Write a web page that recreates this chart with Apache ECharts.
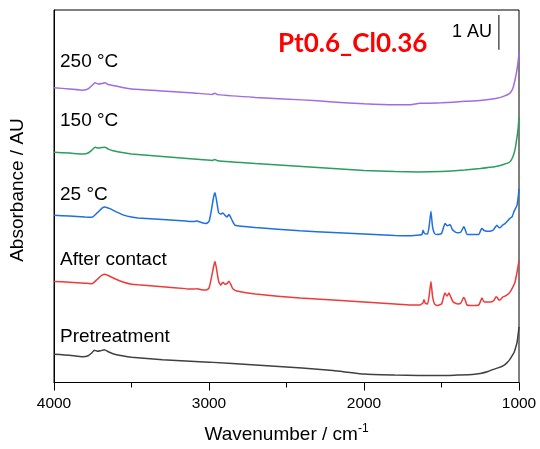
<!DOCTYPE html>
<html><head><meta charset="utf-8">
<script src="https://cdn.jsdelivr.net/npm/echarts@6/dist/echarts.min.js"></script>
<style>html,body{margin:0;padding:0;background:#fff}#c{width:540px;height:449px}</style>
</head><body><div id="c"></div>
<script>
// Wavenumber ticks (cm-1)
const xTicks = [4000, 3000, 2000, 1000];
const seriesNames = ['Pretreatment', 'After contact', '25 °C', '150 °C', '250 °C'];
const seriesColors = ['#404040', '#EE3A3A', '#1F6FE0', '#2A9E5C', '#A26BE0'];
// Spectra: [wavenumber, absorbance (AU, stacked with offsets)]
const pretreatment = [[4000,0.814],[3900,0.786],[3813,0.743],[3780,0.771],[3755,0.857],[3740,0.929],[3720,0.9],[3700,0.914],[3675,0.943],[3650,0.886],[3620,0.829],[3560,0.771],[3500,0.729],[3300,0.657],[3000,0.586],[2700,0.5],[2400,0.414],[2200,0.343],[2000,0.243],[1800,0.214],[1650,0.2],[1500,0.2],[1400,0.214],[1300,0.229],[1250,0.257],[1200,0.314],[1170,0.371],[1130,0.429],[1100,0.486],[1080,0.557],[1060,0.657],[1040,0.8],[1030,0.886],[1020,1.029],[1013,1.143],[1005,1.4],[1000,1.6]];
const afterContact = [[4000,2.906],[3900,2.886],[3800,2.857],[3755,2.843],[3720,2.971],[3690,3.086],[3671,3.114],[3640,3.057],[3600,2.971],[3550,2.886],[3500,2.829],[3458,2.809],[3300,2.757],[3150,2.7],[3100,2.686],[3077,2.7],[3050,2.671],[3020,2.657],[3000,2.714],[2985,3.0],[2970,3.343],[2961,3.477],[2950,3.229],[2938,2.914],[2925,2.8],[2910,2.886],[2898,2.829],[2884,2.843],[2872,2.914],[2860,2.829],[2845,2.686],[2820,2.629],[2700,2.543],[2413,2.429],[2200,2.371],[2000,2.314],[1800,2.257],[1700,2.229],[1640,2.229],[1620,2.286],[1613,2.38],[1605,2.286],[1590,2.257],[1580,2.486],[1568,2.906],[1558,2.486],[1545,2.257],[1530,2.214],[1500,2.257],[1485,2.486],[1477,2.571],[1465,2.486],[1452,2.571],[1440,2.457],[1425,2.314],[1413,2.286],[1394,2.257],[1375,2.286],[1360,2.429],[1355,2.448],[1345,2.343],[1335,2.229],[1300,2.214],[1260,2.229],[1245,2.371],[1239,2.429],[1225,2.314],[1206,2.314],[1180,2.314],[1160,2.371],[1150,2.457],[1142,2.457],[1130,2.371],[1123,2.371],[1105,2.457],[1090,2.486],[1075,2.529],[1058,2.6],[1040,2.743],[1026,2.886],[1015,3.114],[1008,3.286],[1000,3.514]];
const rt25 = [[4000,4.809],[3900,4.786],[3800,4.757],[3755,4.751],[3720,4.886],[3690,5.014],[3671,5.049],[3640,5.0],[3600,4.914],[3550,4.814],[3500,4.757],[3458,4.734],[3300,4.686],[3150,4.643],[3100,4.629],[3077,4.643],[3050,4.6],[3020,4.571],[3000,4.629],[2985,4.943],[2970,5.343],[2961,5.457],[2950,5.2],[2938,4.886],[2925,4.843],[2910,4.877],[2898,4.814],[2884,4.763],[2872,4.829],[2865,4.791],[2850,4.657],[2832,4.523],[2700,4.457],[2413,4.363],[2200,4.314],[2000,4.271],[1800,4.229],[1700,4.22],[1640,4.243],[1626,4.257],[1619,4.38],[1610,4.286],[1590,4.271],[1580,4.486],[1568,4.923],[1558,4.486],[1545,4.286],[1530,4.257],[1500,4.286],[1485,4.486],[1477,4.571],[1462,4.506],[1445,4.543],[1430,4.4],[1413,4.334],[1394,4.306],[1375,4.329],[1360,4.457],[1355,4.477],[1345,4.371],[1335,4.257],[1300,4.257],[1260,4.257],[1245,4.4],[1239,4.429],[1225,4.371],[1206,4.351],[1180,4.357],[1168,4.38],[1150,4.486],[1142,4.523],[1130,4.457],[1123,4.449],[1105,4.529],[1090,4.571],[1060,4.714],[1045,4.763],[1030,4.943],[1013,5.094],[1005,5.343],[1000,5.571]];
const t150 = [[4000,6.62],[3900,6.6],[3813,6.571],[3780,6.6],[3755,6.686],[3735,6.763],[3715,6.743],[3690,6.757],[3671,6.763],[3650,6.714],[3619,6.666],[3560,6.614],[3500,6.571],[3300,6.5],[3100,6.429],[2980,6.386],[2962,6.414],[2945,6.38],[2700,6.3],[2400,6.214],[2200,6.157],[2000,6.1],[1800,6.071],[1650,6.057],[1500,6.071],[1350,6.114],[1250,6.157],[1150,6.214],[1100,6.271],[1060,6.343],[1040,6.486],[1025,6.714],[1013,7.057],[1005,7.343],[1000,7.629]];
const t250 = [[4000,8.477],[3900,8.443],[3813,8.409],[3780,8.443],[3755,8.543],[3735,8.62],[3715,8.586],[3690,8.6],[3671,8.62],[3650,8.571],[3619,8.543],[3560,8.486],[3500,8.443],[3300,8.386],[3100,8.329],[2980,8.286],[2962,8.323],[2945,8.28],[2700,8.2],[2400,8.129],[2200,8.071],[2000,8.014],[1800,7.986],[1700,7.986],[1640,8.029],[1600,8.029],[1500,8.043],[1350,8.086],[1250,8.114],[1150,8.171],[1100,8.229],[1060,8.314],[1040,8.457],[1025,8.714],[1013,9.0],[1005,9.257],[1000,9.486]];
// 1 AU scale bar
const scaleBar = [[1130, 9.571], [1130, 10.571]];
const allData = [pretreatment, afterContact, rt25, t150, t250];

const chart = echarts.init(document.getElementById('c'));
const series = allData.map((d, i) => ({
  name: seriesNames[i], type: 'line', data: d, showSymbol: false, smooth: 0.15,
  lineStyle: { color: seriesColors[i], width: 1.5 }, silent: true, animation: false
}));
series.push({ type: 'line', data: scaleBar, showSymbol: false, lineStyle: { color: '#555', width: 1.5 }, animation: false, silent: true });

const labelFont = '"Liberation Sans", Arial, sans-serif';
const labelPos = [[60, 337], [60, 260], [60, 195], [60, 121], [60, 62]];
const graphics = seriesNames.map((n, i) => ({
  type: 'text', left: labelPos[i][0], top: labelPos[i][1] - 10,
  style: { text: n, font: '19px ' + labelFont, fill: '#000' }
}));
graphics.push({ type: 'text', left: 278, top: 31, style: { text: 'Pt0.6_Cl0.36', font: 'bold 26px Lato, sans-serif', fill: '#FF0000' } });
graphics.push({ type: 'text', right: 48, top: 23, style: { text: '1 AU', font: '18px ' + labelFont, fill: '#000' } });
graphics.push({ type: 'text', rotation: Math.PI / 2, x: 8, y: 190, style: { text: 'Absorbance / AU', font: '19px ' + labelFont, fill: '#000', align: 'center', verticalAlign: 'top' } });

chart.setOption({
  animation: false,
  grid: { left: 54, right: 21, top: 10, bottom: 64, show: true, borderColor: '#000', borderWidth: 1 },
  xAxis: {
    type: 'value', inverse: true, min: 1000, max: 4000, interval: 1000,
    name: 'Wavenumber / cm{sup|-1}', nameLocation: 'middle', nameGap: 40,
    nameTextStyle: { fontFamily: labelFont, fontSize: 19, color: '#000',
      rich: { sup: { fontFamily: labelFont, fontSize: 12, color: '#000', padding: [0, 0, 12, 0] } } },
    axisLine: { show: true, lineStyle: { color: '#000', width: 1 } },
    axisTick: { show: true, inside: false, length: 8, lineStyle: { color: '#000' } },
    minorTick: { show: true, splitNumber: 2, length: 5, lineStyle: { color: '#000' } },
    axisLabel: { fontFamily: labelFont, fontSize: 15.5, color: '#000', margin: 13,
      formatter: v => xTicks.includes(v) ? String(v) : '' },
    splitLine: { show: false }
  },
  yAxis: {
    type: 'value', min: 0, max: 10.714,
    axisLine: { show: true, lineStyle: { color: '#000' } },
    axisTick: { show: false }, axisLabel: { show: false }, splitLine: { show: false }
  },
  series: series,
  graphic: graphics
});
</script></body></html>
